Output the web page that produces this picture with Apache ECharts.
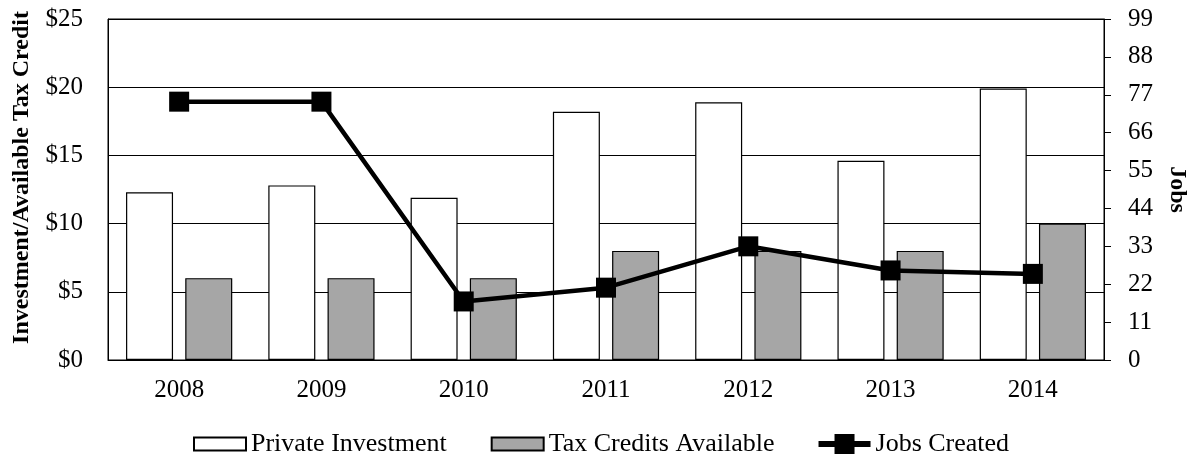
<!DOCTYPE html>
<html>
<head>
<meta charset="utf-8">
<script src="https://cdn.jsdelivr.net/npm/echarts@6/dist/echarts.min.js"></script>
<style>
  html, body { margin: 0; padding: 0; background: #fff; }
  #chart { width: 1197px; height: 460px; }
</style>
</head>
<body>
<div id="chart"></div>
<script>
// Program years
const years = ['2008', '2009', '2010', '2011', '2012', '2013', '2014'];
// Private investment, $ millions
const privateInvestment = [12.3, 12.8, 11.9, 18.2, 18.9, 14.6, 19.9];
// Tax credits available, $ millions
const taxCredits = [6, 6, 6, 8, 8, 8, 10];
// Jobs created
const jobsCreated = [75, 75, 17, 21, 33, 26, 25];

const FONT = '"Liberation Serif", "Times New Roman", serif';

// Legend icons: a flat box for the bars (padded to the common item height)
// and a thick line with a square marker for the jobs series.
const BAR_ICON = 'path://M0,0M52,20M0,3.5H52V16.5H0Z';
const LINE_ICON = 'path://M0,7H16V0H36V7H52V13H36V20H16V13H0Z';

const chart = echarts.init(document.getElementById('chart'));
chart.setOption({
  animation: false,
  textStyle: { fontFamily: FONT, color: '#000' },
  grid: { left: 108, right: 88, top: 19, bottom: 100, show: true, borderColor: '#000', borderWidth: 1 },
  legend: {
    top: 426,
    left: 188,
    itemGap: 44,
    itemWidth: 52,
    itemHeight: 20,
    textStyle: { fontFamily: FONT, fontSize: 26, color: '#000' },
    data: [
      { name: 'Private Investment', icon: BAR_ICON },
      { name: 'Tax Credits Available', icon: BAR_ICON },
      { name: 'Jobs Created', icon: LINE_ICON }
    ]
  },
  xAxis: {
    type: 'category',
    data: years,
    axisLine: { lineStyle: { color: '#000', width: 1 } },
    axisTick: { show: false },
    axisLabel: { fontFamily: FONT, fontSize: 25, color: '#000', margin: 18 }
  },
  yAxis: [
    {
      type: 'value',
      min: 0, max: 25, interval: 5,
      name: 'Investment/Available Tax Credit',
      nameLocation: 'middle',
      nameGap: 74,
      nameTextStyle: { fontFamily: FONT, fontSize: 24, fontWeight: 'bold', color: '#000', padding: [0, 0, 0, 24] },
      axisLine: { show: true, lineStyle: { color: '#000' } },
      axisTick: { show: false },
      axisLabel: { fontFamily: FONT, fontSize: 25, color: '#000', margin: 25, formatter: v => '$' + v },
      splitLine: { show: true, lineStyle: { color: '#000', width: 1 } }
    },
    {
      type: 'value',
      min: 0, max: 99, interval: 11,
      name: 'Jobs',
      nameLocation: 'middle',
      nameRotate: -90,
      nameGap: 61,
      nameTextStyle: { fontFamily: FONT, fontSize: 24, fontWeight: 'bold', color: '#000' },
      axisLine: { show: true, lineStyle: { color: '#000' } },
      axisTick: { show: true, length: 7, lineStyle: { color: '#000' } },
      axisLabel: { fontFamily: FONT, fontSize: 25, color: '#000', margin: 24 },
      splitLine: { show: false }
    }
  ],
  series: [
    {
      name: 'Private Investment',
      type: 'bar',
      data: privateInvestment,
      barWidth: 47,
      barGap: '26%',
      itemStyle: { color: '#fff', borderColor: '#000', borderWidth: 1.2 }
    },
    {
      name: 'Tax Credits Available',
      type: 'bar',
      data: taxCredits,
      barWidth: 47,
      itemStyle: { color: '#a6a6a6', borderColor: '#000', borderWidth: 1.2 }
    },
    {
      name: 'Jobs Created',
      type: 'line',
      yAxisIndex: 1,
      data: jobsCreated,
      symbol: 'rect',
      symbolSize: 20,
      lineStyle: { color: '#000', width: 4.5 },
      itemStyle: { color: '#000' },
      z: 5
    }
  ]
});
</script>
</body>
</html>
